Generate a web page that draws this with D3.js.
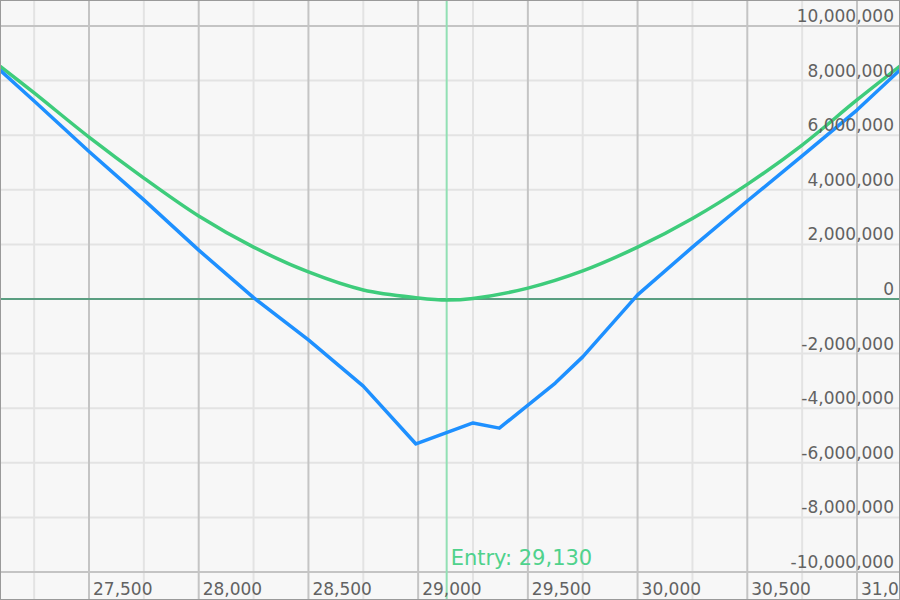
<!DOCTYPE html>
<html>
<head>
<meta charset="utf-8">
<script src="https://cdn.jsdelivr.net/npm/d3@7"></script>
<style>
html,body{margin:0;padding:0;background:#f7f7f7;}
svg{display:block;}
text{font-family:"DejaVu Sans",Verdana,sans-serif;}
</style>
</head>
<body>
<svg id="chart" width="900" height="600"></svg>
<script>
// ---- data ----
const prices = [27094, 27250, 27500, 27750, 28000, 28250, 28500, 28750, 28990, 29250, 29370, 29625, 29750, 30000, 30250, 30500, 30750, 31000, 31196];
const expiryPnL = [8.39, 7.25, 5.40, 3.63, 1.79, 0.05, -1.50, -3.19, -5.31, -4.54, -4.73, -3.08, -2.12, 0.15, 1.90, 3.59, 5.24, 6.92, 8.39].map(v => v * 1e6);
const greenPrices = [27094, 27250, 27500, 27750, 28000, 28250, 28500, 28750, 29000, 29130, 29250, 29500, 29750, 30000, 30250, 30500, 30750, 31000, 31196];
const todayPnL = [8.53, 7.55, 5.93, 4.43, 3.04, 1.90, 0.99, 0.33, 0.04, -0.04, 0.02, 0.40, 1.03, 1.90, 2.95, 4.20, 5.64, 7.29, 8.53].map(v => v * 1e6);
const xTicks = [27500, 28000, 28500, 29000, 29500, 30000, 30500, 31000];
const xMinor = [27250, 27750, 28250, 28750, 29250, 29750, 30250, 30750];
const yTicks = [-10e6, -8e6, -6e6, -4e6, -2e6, 0, 2e6, 4e6, 6e6, 8e6, 10e6];
const entryPrice = 29130;
const entryLabel = "Entry: 29,130";

// ---- drawing ----
const W = 900, H = 600;
const svg = d3.select("#chart");
const x = d3.scaleLinear().domain([27500, 31000]).range([89, 857]);
const y = d3.scaleLinear().domain([-10e6, 10e6]).range([572, 26]);
const fmt = v => d3.format(",")(v).replace("\u2212", "-");

svg.append("rect").attr("width", W).attr("height", H).attr("fill", "#f7f7f7");

// minor vertical grid
svg.append("g").selectAll("line").data(xMinor).join("line")
  .attr("x1", d => x(d)).attr("x2", d => x(d)).attr("y1", 0).attr("y2", H)
  .attr("stroke", "#e3e3e3").attr("stroke-width", 2);

// horizontal grid
svg.append("g").selectAll("line").data(yTicks.filter(d => d !== 0)).join("line")
  .attr("x1", 0).attr("x2", W).attr("y1", d => y(d)).attr("y2", d => y(d))
  .attr("stroke", d => Math.abs(d) === 10e6 ? "#c4c4c4" : "#e3e3e3").attr("stroke-width", 2);

// major vertical grid
svg.append("g").selectAll("line").data(xTicks).join("line")
  .attr("x1", d => x(d)).attr("x2", d => x(d)).attr("y1", 0).attr("y2", H)
  .attr("stroke", "#c4c4c4").attr("stroke-width", 2);

// zero line
svg.append("line").attr("x1", 0).attr("x2", W).attr("y1", y(0)).attr("y2", y(0))
  .attr("stroke", "#5a9e81").attr("stroke-width", 2);

// entry line
svg.append("line").attr("x1", x(entryPrice)).attr("x2", x(entryPrice)).attr("y1", 0).attr("y2", H)
  .attr("stroke", "#92e0b4").attr("stroke-width", 2);

// lines
const greenLine = d3.line().x((d, i) => x(greenPrices[i])).y(d => y(d)).curve(d3.curveCatmullRom.alpha(0.5));
svg.append("path").datum(todayPnL).attr("d", greenLine)
  .attr("fill", "none").attr("stroke", "#3ecc7b").attr("stroke-width", 3.5).attr("stroke-linejoin", "round");

const blueLine = d3.line().x((d, i) => x(prices[i])).y(d => y(d));
svg.append("path").datum(expiryPnL).attr("d", blueLine)
  .attr("fill", "none").attr("stroke", "#1e90ff").attr("stroke-width", 3.5).attr("stroke-linejoin", "round");

// y labels
svg.append("g").selectAll("text").data(yTicks).join("text")
  .attr("x", 894).attr("y", d => y(d) - 4).attr("text-anchor", "end")
  .attr("font-size", 17).attr("fill", "#626262").text(d => fmt(d));

// x labels
svg.append("g").selectAll("text").data(xTicks).join("text")
  .attr("x", d => x(d) + 4).attr("y", 595)
  .attr("font-size", 17).attr("fill", "#626262").text(d => fmt(d));

// entry label
svg.append("text").attr("x", x(entryPrice) + 4).attr("y", 565)
  .attr("font-size", 21).attr("fill", "#4fd28c").text(entryLabel);

// frame
svg.append("rect").attr("x", 0.5).attr("y", 0.5).attr("width", W - 1).attr("height", H - 1)
  .attr("fill", "none").attr("stroke", "#9a9a9a").attr("stroke-width", 1);
</script>
</body>
</html>
